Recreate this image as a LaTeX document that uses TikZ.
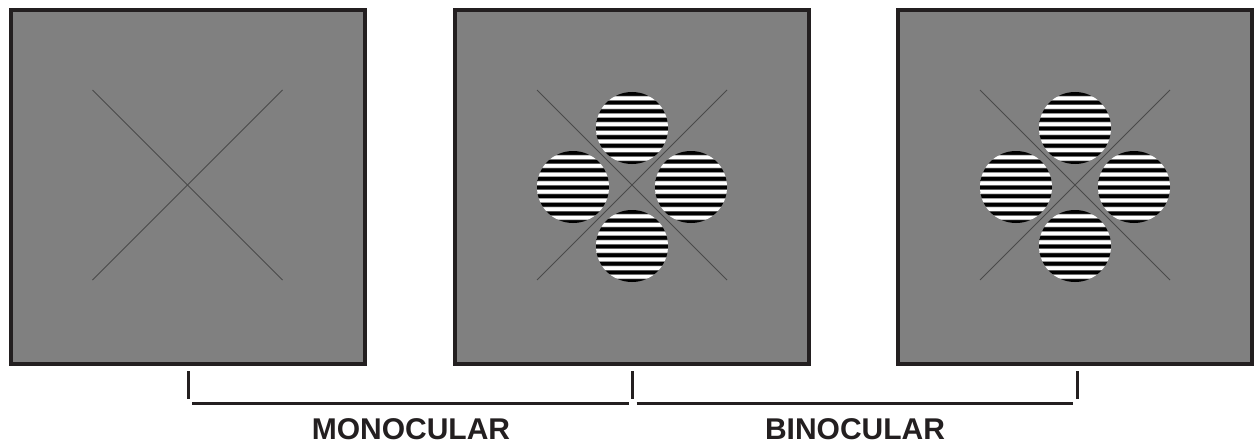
\documentclass[tikz,border=0pt]{standalone}
\usepackage{fontspec}
\setmainfont{Liberation Sans}

\definecolor{framegray}{HTML}{231F20}
\definecolor{panelgray}{HTML}{808080}
\definecolor{crossgray}{HTML}{4A4A4A}

% horizontal grating, dark bar at the top
\pgfdeclareverticalshading{grating}{100bp}{color(0bp)=(black); color(25bp)=(black);
  color(27bp)=(black); color(28bp)=(white); color(30bp)=(white);
  color(31bp)=(black); color(33bp)=(black); color(34bp)=(white); color(36bp)=(white);
  color(37bp)=(black); color(39bp)=(black); color(40bp)=(white); color(42bp)=(white);
  color(43bp)=(black); color(45bp)=(black); color(46bp)=(white); color(48bp)=(white);
  color(49bp)=(black); color(51bp)=(black); color(52bp)=(white); color(54bp)=(white);
  color(55bp)=(black); color(57bp)=(black); color(58bp)=(white); color(60bp)=(white);
  color(61bp)=(black); color(63bp)=(black); color(64bp)=(white); color(66bp)=(white);
  color(67bp)=(black); color(69bp)=(black); color(70bp)=(white); color(72bp)=(white);
  color(73bp)=(black); color(75bp)=(black); color(76bp)=(white); color(78bp)=(white);
  color(79bp)=(black); color(100bp)=(black)}

\tikzset{
  panel/.style={draw=framegray, fill=panelgray, line width=4, minimum size=354, inner sep=0pt},
  cross/.style={crossgray, line width=0.9},
  bracket/.style={framegray, line width=3},
  bottomlabel/.style={text=framegray, font=\bfseries\fontsize{30}{36}\selectfont, inner sep=0pt}
}

\begin{document}
\begin{tikzpicture}[x=1pt, y=-1pt]
\useasboundingbox (0,0) rectangle (1254,444);

% the three screens
\node[panel] (blank) at (187.5,187) {};
\node[panel] (mono) at (632,187) {};
\node[panel] (bino) at (1075,187) {};

% fixation crosses
\foreach \p in {blank,mono,bino}{
  \draw[cross] (\p.center) ++(-95,-97) -- ++(190,190);
  \draw[cross] (\p.center) ++(95,-97) -- ++(-190,190);
}

% gratings
\foreach \p in {mono,bino}
  \foreach \dx/\dy in {0/-59,-59/0,59/0,0/59}
    \shade[shading=grating] ([shift={(\dx,\dy)}]\p.center) circle (36);

% bracket
\coordinate (tickA) at (188,371);
\coordinate (tickB) at (632.5,371);
\coordinate (tickC) at (1077,371);
\foreach \t in {tickA,tickB,tickC}
  \draw[bracket] (\t) -- ++(0,28);
\draw[bracket] ([shift={(4,32)}]tickA) -- ([shift={(-4,32)}]tickB);
\draw[bracket] ([shift={(4,32)}]tickB) -- ([shift={(-4,32)}]tickC);

% labels
\node[bottomlabel, anchor=base] (monolabel) at (411,439) {MONOCULAR};
\node[bottomlabel, anchor=base] (binolabel) at (855,439) {BINOCULAR};
\end{tikzpicture}
\end{document}
